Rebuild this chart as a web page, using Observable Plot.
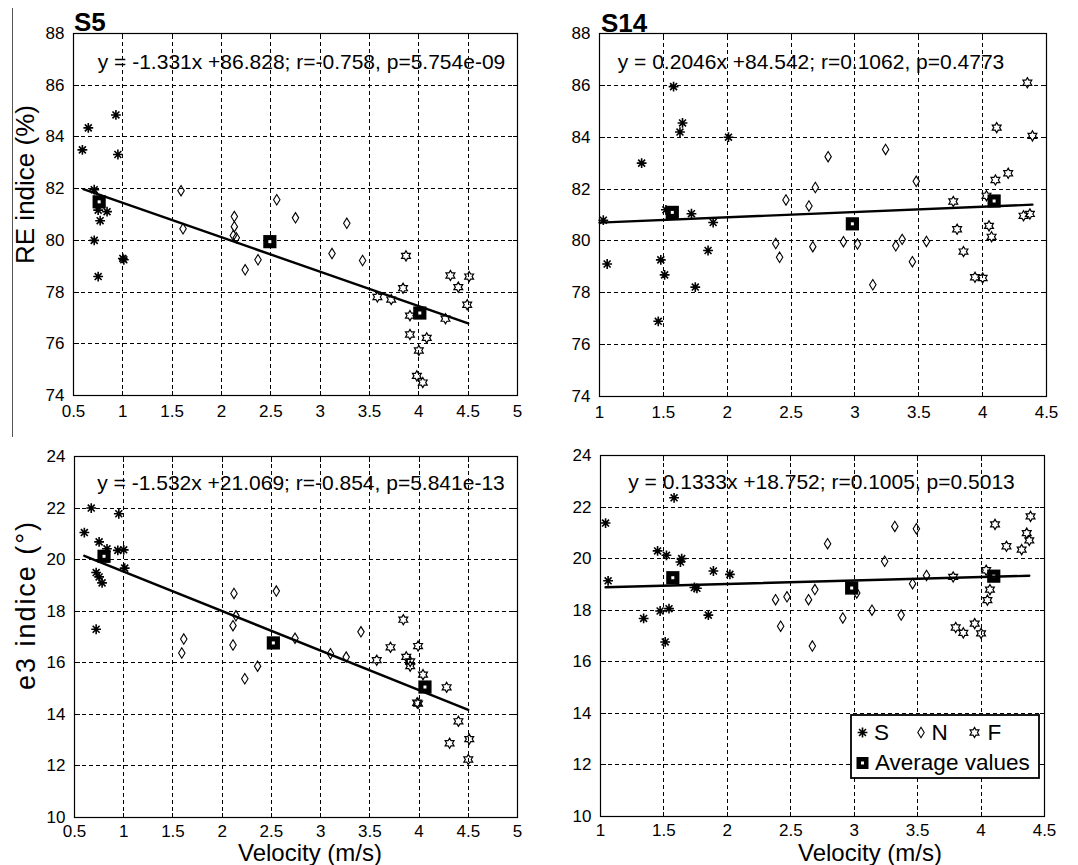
<!DOCTYPE html>
<html>
<head>
<meta charset="utf-8">
<script src="https://cdn.jsdelivr.net/npm/d3@7"></script>
<script src="https://cdn.jsdelivr.net/npm/@observablehq/plot@0.6"></script>
<style>
  html, body { margin: 0; padding: 0; background: #fff; }
  #fig { position: relative; width: 1078px; height: 865px; background: #fff; overflow: hidden;
         font-family: "Liberation Sans", Arial, Helvetica, sans-serif; color: #000; }
  .panel { position: absolute; }
  #overlay { position: absolute; left: 0; top: 0; }
</style>
</head>
<body>
<div id="fig"></div>
<script>
// ---- Velocity (m/s) vs index, subjects S5 and S14, three strategies (S, N, F) ----

// Axis ticks
const xTicksS5 = [0.5, 1, 1.5, 2, 2.5, 3, 3.5, 4, 4.5, 5];
const xTicksS14 = [1, 1.5, 2, 2.5, 3, 3.5, 4, 4.5];
const yTicksRE = [74, 76, 78, 80, 82, 84, 86, 88];
const yTicksE3 = [10, 12, 14, 16, 18, 20, 22, 24];

// S5 — RE indice (%)
const s5ReS = [[0.59,83.5],[0.65,84.35],[0.93,84.85],[0.95,83.32],[0.71,81.96],[0.75,81.17],[0.84,81.11],
  [0.77,80.76],[0.71,80.0],[1.0,79.3],[1.01,79.25],[0.75,78.6]];
const s5ReN = [[1.59,81.92],[1.61,80.45],[2.13,80.92],[2.13,80.53],[2.12,80.19],[2.15,80.1],[2.24,78.86],
  [2.37,79.25],[2.56,81.57],[2.75,80.87],[3.12,79.49],[3.27,80.66],[3.43,79.22]];
const s5ReF = [[3.87,79.4],[3.84,78.15],[3.58,77.81],[3.72,77.71],[3.91,77.09],[3.91,76.36],[4.08,76.23],
  [4.0,75.74],[3.98,74.76],[4.04,74.5],[4.27,76.97],[4.32,78.64],[4.40,78.19],[4.51,78.6],[4.49,77.51]];
const s5ReAvg = [[0.76,81.49],[2.49,79.95],[4.01,77.19]];
const s5ReFitX = [0.6, 4.5];
const s5ReFitCoef = [-1.331, 82.78];   // slope, intercept of the plotted line
const s5ReEq = "y = -1.331x +86.828; r=-0.758, p=5.754e-09";

// S14 — RE indice (%)
const s14ReS = [[1.03,80.8],[1.06,79.11],[1.33,83.0],[1.46,76.9],[1.48,79.27],[1.51,78.69],[1.52,81.2],
  [1.58,85.95],[1.63,84.2],[1.65,84.55],[1.72,81.05],[1.75,78.22],[1.85,79.63],[1.89,80.71],[2.01,84.0]];
const s14ReN = [[2.38,79.9],[2.41,79.37],[2.46,81.58],[2.64,81.35],[2.67,79.78],[2.69,82.06],[2.79,83.25],
  [2.91,79.97],[3.02,79.88],[3.14,78.31],[3.24,83.53],[3.32,79.81],[3.37,80.06],[3.45,79.2],[3.48,82.3],[3.56,79.98]];
const s14ReF = [[3.77,81.52],[3.80,80.45],[3.85,79.59],[3.94,78.6],[4.0,78.57],[4.03,81.74],[4.05,80.58],
  [4.07,80.16],[4.10,82.35],[4.11,84.37],[4.20,82.61],[4.32,80.97],[4.35,86.1],[4.37,81.04],[4.39,84.05]];
const s14ReAvg = [[1.57,81.1],[2.98,80.66],[4.09,81.54]];
const s14ReFitX = [1.0, 4.39];
const s14ReFitCoef = [0.2046, 80.50];
const s14ReEq = "y = 0.2046x +84.542; r=0.1062, p=0.4773";

// S5 — e3 indice (°)
const s5E3S = [[0.60,21.05],[0.67,22.0],[0.95,21.78],[0.75,20.69],[0.83,20.42],[0.94,20.36],[1.0,20.38],
  [1.01,19.67],[0.72,19.5],[0.75,19.33],[0.78,19.1],[0.72,17.3]];
const s5E3N = [[1.59,16.38],[1.61,16.92],[2.11,16.69],[2.11,17.44],[2.14,17.82],[2.12,18.69],[2.23,15.38],
  [2.36,15.87],[2.55,18.78],[2.74,16.95],[3.10,16.35],[3.26,16.22],[3.41,17.2]];
const s5E3F = [[3.57,16.1],[3.71,16.6],[3.84,17.67],[3.87,16.23],[3.91,16.05],[3.91,15.87],[3.99,16.65],
  [4.04,15.54],[3.98,14.45],[3.99,14.42],[4.28,15.05],[4.40,13.73],[4.31,12.88],[4.51,13.04],[4.50,12.25]];
const s5E3Avg = [[0.80,20.13],[2.52,16.77],[4.06,15.06]];
const s5E3FitX = [0.6, 4.5];
const s5E3FitCoef = [-1.532, 21.069];
const s5E3Eq = "y = -1.532x +21.069; r=-0.854, p=5.841e-13";

// S14 — e3 indice (°)
const s14E3S = [[1.04,21.38],[1.06,19.14],[1.34,17.68],[1.45,20.30],[1.47,17.97],[1.51,16.77],[1.52,20.13],
  [1.54,18.06],[1.58,22.36],[1.63,19.87],[1.64,20.0],[1.74,18.88],[1.76,18.85],[1.85,17.81],[1.89,19.52],[2.02,19.39]];
const s14E3N = [[2.38,18.41],[2.42,17.38],[2.47,18.52],[2.64,18.41],[2.67,16.61],[2.69,18.8],[2.79,20.58],
  [2.91,17.7],[3.02,18.67],[3.14,18.0],[3.24,19.9],[3.32,21.25],[3.37,17.81],[3.46,19.03],[3.49,21.16],[3.57,19.35]];
const s14E3F = [[3.78,19.29],[3.80,17.33],[3.86,17.12],[3.95,17.48],[4.0,17.1],[4.04,19.55],[4.05,18.39],
  [4.07,18.8],[4.11,21.33],[4.20,20.48],[4.32,20.35],[4.36,20.99],[4.38,20.71],[4.39,21.64]];
const s14E3Avg = [[1.57,19.26],[2.98,18.86],[4.10,19.32]];
const s14E3FitX = [1.04, 4.38];
const s14E3FitCoef = [0.1333, 18.752];
const s14E3Eq = "y = 0.1333x +18.752; r=0.1005, p=0.5013";

// ---- Marker shapes (d3 symbol types) ----
const rad = size => Math.sqrt(size / Math.PI);
const symAsterisk = { draw(ctx, size) {
  const r = rad(size), d = r * Math.SQRT1_2;
  ctx.moveTo(-r, 0); ctx.lineTo(r, 0); ctx.moveTo(0, -r); ctx.lineTo(0, r);
  ctx.moveTo(-d, -d); ctx.lineTo(d, d); ctx.moveTo(-d, d); ctx.lineTo(d, -d);
}};
const symDiamond = { draw(ctx, size) {
  const r = rad(size), w = r * 0.62;
  ctx.moveTo(0, -r); ctx.lineTo(w, 0); ctx.lineTo(0, r); ctx.lineTo(-w, 0); ctx.closePath();
}};
const symHexagram = { draw(ctx, size) {
  const R = rad(size), ri = R / Math.sqrt(3);
  for (let k = 0; k < 12; k++) {
    const a = -Math.PI / 2 + k * Math.PI / 6, rr = k % 2 === 0 ? R : ri;
    const x = rr * Math.cos(a), y = rr * Math.sin(a);
    if (k === 0) ctx.moveTo(x, y); else ctx.lineTo(x, y);
  }
  ctx.closePath();
}};
const symBox = { draw(ctx, size) { const h = rad(size); ctx.rect(-h, -h, 2 * h, 2 * h); } };

const toPts = arr => arr.map(([x, y]) => ({x, y}));

// ---- Panel layout ----
const panels = [
  { left: 0, top: 0, width: 540, height: 430, m: [33, 23, 35, 73], xPad: 9,
    xDomain: [0.5, 5], yDomain: [74, 88], xTicks: xTicksS5, yTicks: yTicksRE,
    S: s5ReS, N: s5ReN, F: s5ReF, avg: s5ReAvg, fitX: s5ReFitX, fit: s5ReFitCoef,
    eq: s5ReEq, eqDx: 6, eqDy: 21 },
  { left: 540, top: 0, width: 538, height: 430, m: [33, 32, 34, 59], xPad: 9,
    xDomain: [1, 4.5], yDomain: [74, 88], xTicks: xTicksS14, yTicks: yTicksRE,
    S: s14ReS, N: s14ReN, F: s14ReF, avg: s14ReAvg, fitX: s14ReFitX, fit: s14ReFitCoef,
    eq: s14ReEq, eqDx: -12, eqDy: 20.5 },
  { left: 0, top: 430, width: 540, height: 435, m: [26, 23, 48, 74], xPad: 7,
    xDomain: [0.5, 5], yDomain: [10, 24], xTicks: xTicksS5, yTicks: yTicksE3,
    S: s5E3S, N: s5E3N, F: s5E3F, avg: s5E3Avg, fitX: s5E3FitX, fit: s5E3FitCoef,
    eq: s5E3Eq, eqDx: 5, eqDy: 18.5 },
  { left: 540, top: 430, width: 538, height: 435, m: [25, 34, 49, 60], xPad: 7,
    xDomain: [1, 4.5], yDomain: [10, 24], xTicks: xTicksS14, yTicks: yTicksE3,
    S: s14E3S, N: s14E3N, F: s14E3F, avg: s14E3Avg, fitX: s14E3FitX, fit: s14E3FitCoef,
    eq: s14E3Eq, eqDx: -1, eqDy: 19 }
];

const fig = document.getElementById("fig");

for (const p of panels) {
  const [mt, mr, mb, ml] = p.m;
  const plotW = p.width - ml - mr, plotH = p.height - mt - mb;
  const [slope, icpt] = p.fit;
  const fitLine = p.fitX.map(x => ({x, y: slope * x + icpt}));
  const xt = p.xTicks.map(v => ({v}));
  const yt = p.yTicks.map(v => ({v}));
  const x0 = p.xDomain[0], x1 = p.xDomain[1], y0 = p.yDomain[0], y1 = p.yDomain[1];
  const ty = 5 * (y1 - y0) / plotH, tx = 5 * (x1 - x0) / plotW;   // 5px inward tick length in data units
  const gridStyle = { stroke: "#000", strokeWidth: 1, strokeDasharray: "4,3", shapeRendering: "crispEdges" };
  const tickStyle = { stroke: "#000", strokeWidth: 1, shapeRendering: "crispEdges" };
  const chart = Plot.plot({
    width: p.width, height: p.height,
    marginTop: mt, marginRight: mr, marginBottom: mb, marginLeft: ml,
    style: { fontFamily: '"Liberation Sans", Arial, sans-serif', fontSize: "17px", color: "#000",
             background: "transparent", overflow: "visible" },
    x: { domain: p.xDomain, ticks: p.xTicks, tickFormat: d => String(d), tickSize: 0, tickPadding: p.xPad, label: null },
    y: { domain: p.yDomain, ticks: p.yTicks, tickFormat: d => String(d), tickSize: 0, tickPadding: 9, label: null },
    marks: [
      // dashed grid
      Plot.link(xt, { x1: "v", x2: "v", y1: () => y0, y2: () => y1, ...gridStyle }),
      Plot.link(yt, { y1: "v", y2: "v", x1: () => x0, x2: () => x1, ...gridStyle }),
      // inward ticks on all four sides
      Plot.link(xt, { x1: "v", x2: "v", y1: () => y0, y2: () => y0 + ty, ...tickStyle }),
      Plot.link(xt, { x1: "v", x2: "v", y1: () => y1, y2: () => y1 - ty, ...tickStyle }),
      Plot.link(yt, { y1: "v", y2: "v", x1: () => x0, x2: () => x0 + tx, ...tickStyle }),
      Plot.link(yt, { y1: "v", y2: "v", x1: () => x1, x2: () => x1 - tx, ...tickStyle }),
      Plot.frame({ stroke: "#000", strokeWidth: 1.2 }),
      // observations
      Plot.dot(toPts(p.S), { x: "x", y: "y", symbol: symAsterisk, r: 4.9, stroke: "#000", strokeWidth: 1.6, fill: "none" }),
      Plot.dot(toPts(p.N), { x: "x", y: "y", symbol: symDiamond, r: 5.2, stroke: "#000", strokeWidth: 1.1, fill: "none" }),
      Plot.dot(toPts(p.F), { x: "x", y: "y", symbol: symHexagram, r: 5.1, stroke: "#000", strokeWidth: 1.2, fill: "none" }),
      // average values
      Plot.dot(toPts(p.avg), { x: "x", y: "y", symbol: symBox, r: 6.6, fill: "#000" }),
      Plot.dot(toPts(p.avg), { x: "x", y: "y", symbol: symBox, r: 1.5, fill: "#fff" }),
      // linear fit
      Plot.line(fitLine, { x: "x", y: "y", stroke: "#000", strokeWidth: 2.4 }),
      // regression annotation
      Plot.text([p.eq], { text: d => d, frameAnchor: "top", dx: p.eqDx, dy: p.eqDy, fontSize: 21, fill: "#000" })
    ]
  });
  chart.classList.add("panel");
  chart.style.left = p.left + "px";
  chart.style.top = p.top + "px";
  fig.appendChild(chart);
}

// ---- Titles, axis labels and legend ----
const svg = d3.select(fig).append("svg").attr("id", "overlay")
  .attr("width", 1078).attr("height", 865)
  .style("font-family", '"Liberation Sans", Arial, sans-serif');

svg.append("line").attr("x1", 12.5).attr("x2", 12.5).attr("y1", 8).attr("y2", 437)
  .attr("stroke", "#555").attr("stroke-width", 1);

svg.append("text").attr("x", 74).attr("y", 31).attr("font-size", 26).attr("font-weight", "bold").text("S5");
svg.append("text").attr("x", 601).attr("y", 31.5).attr("font-size", 26).attr("font-weight", "bold").text("S14");

svg.append("text").attr("transform", "translate(33.5,184.5) rotate(-90)").attr("text-anchor", "middle")
  .attr("font-size", 26).text("RE indice (%)");
svg.append("text").attr("transform", "translate(35,606) rotate(-90)").attr("text-anchor", "middle")
  .attr("font-size", 27).attr("textLength", 168).attr("lengthAdjust", "spacing").text("e3 indice (°)");

svg.append("text").attr("x", 310).attr("y", 861).attr("text-anchor", "middle").attr("font-size", 24).text("Velocity (m/s)");
svg.append("text").attr("x", 870).attr("y", 861).attr("text-anchor", "middle").attr("font-size", 24).text("Velocity (m/s)");

// legend
const lg = svg.append("g");
lg.append("rect").attr("x", 851).attr("y", 715).attr("width", 188).attr("height", 63)
  .attr("fill", "#fff").attr("stroke", "#000").attr("stroke-width", 1.8);
const sym = (type, r) => d3.symbol(type, r * r * Math.PI)();
lg.append("path").attr("d", sym(symAsterisk, 4.9)).attr("transform", "translate(862.5,732.5)")
  .attr("stroke", "#000").attr("stroke-width", 1.6).attr("fill", "none");
lg.append("path").attr("d", sym(symDiamond, 5.2)).attr("transform", "translate(921,732.5)")
  .attr("stroke", "#000").attr("stroke-width", 1.1).attr("fill", "none");
lg.append("path").attr("d", sym(symHexagram, 5.1)).attr("transform", "translate(974.5,732.5)")
  .attr("stroke", "#000").attr("stroke-width", 1.2).attr("fill", "none");
lg.append("path").attr("d", sym(symBox, 6)).attr("transform", "translate(862.5,763)").attr("fill", "#000");
lg.append("path").attr("d", sym(symBox, 1.5)).attr("transform", "translate(862.5,763)").attr("fill", "#fff");
const lgText = [["S", 874, 739.5], ["N", 931.5, 739.5], ["F", 987.5, 739.5], ["Average values", 875, 769.5]];
for (const [t, x, y] of lgText) {
  lg.append("text").attr("x", x).attr("y", y).attr("font-size", 22.5).text(t);
}
</script>
</body>
</html>
